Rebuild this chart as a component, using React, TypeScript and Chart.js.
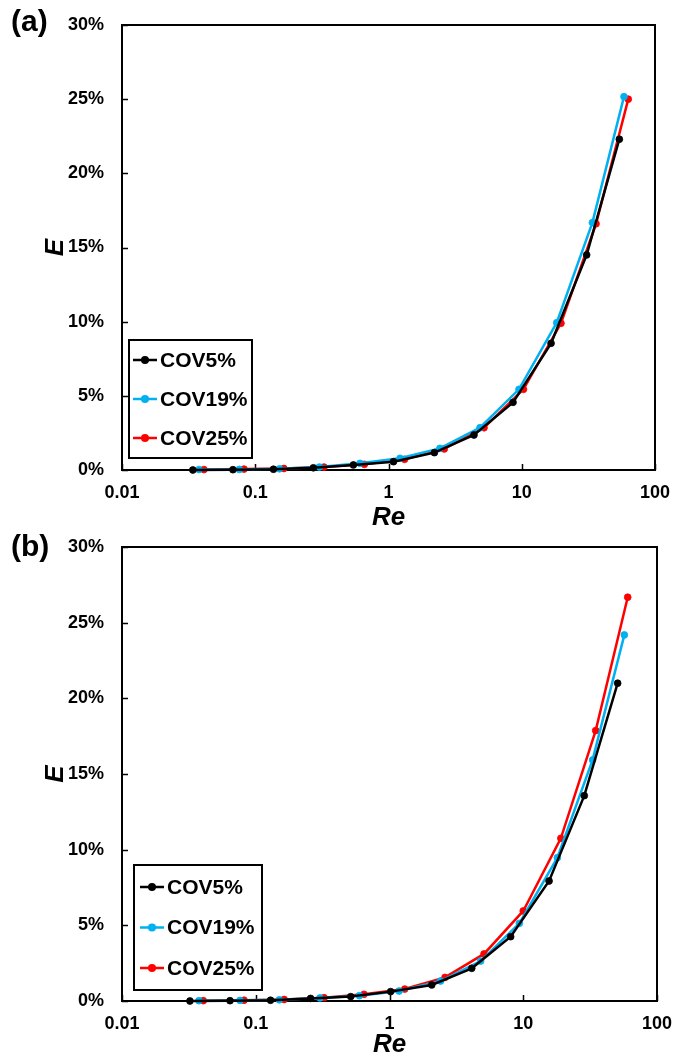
import React, { useEffect, useRef } from 'react';
import { Chart, registerables } from 'chart.js';

Chart.register(...registerables);

// ---- axis ticks ----
const xTickValues = [0.01, 0.1, 1, 10, 100];
const xTickLabels = ['0.01', '0.1', '1', '10', '100'];
const yTickValues = [0, 5, 10, 15, 20, 25, 30];
const yTickLabels = ['0%', '5%', '10%', '15%', '20%', '25%', '30%'];

// ---- series ----
const seriesLabels = ['COV5%', 'COV19%', 'COV25%'];
const seriesColors = ['#000000', '#00B0F0', '#FF0000'];

// Panel (a): Re and E (%)
const reA5 = [0.034, 0.068, 0.137, 0.273, 0.545, 1.09, 2.21, 4.38, 8.6, 16.6, 30.7, 54];
const eA5 = [0.0, 0.02, 0.05, 0.15, 0.34, 0.56, 1.17, 2.36, 4.56, 8.54, 14.5, 22.3];
const reA19 = [0.0378, 0.0759, 0.152, 0.303, 0.611, 1.22, 2.43, 4.86, 9.53, 18.3, 33.9, 58.5];
const eA19 = [0.03, 0.04, 0.08, 0.2, 0.45, 0.79, 1.46, 2.85, 5.44, 9.93, 16.68, 25.17];
const reA25 = [0.0412, 0.0823, 0.164, 0.328, 0.659, 1.32, 2.62, 5.21, 10.3, 19.7, 36.1, 63];
const eA25 = [0.03, 0.06, 0.1, 0.2, 0.38, 0.72, 1.42, 2.85, 5.44, 9.89, 16.6, 25.0];

// Panel (b): Re and E (%)
const reB5 = [0.0322, 0.0642, 0.129, 0.257, 0.513, 1.02, 2.07, 4.12, 8.05, 15.6, 28.6, 50.8];
const eB5 = [0.0, 0.02, 0.05, 0.17, 0.29, 0.62, 1.06, 2.16, 4.25, 7.93, 13.57, 21.0];
const reB19 = [0.0376, 0.0763, 0.15, 0.302, 0.595, 1.18, 2.41, 4.8, 9.35, 18.0, 33.0, 57.0];
const eB19 = [0.02, 0.04, 0.08, 0.2, 0.35, 0.66, 1.32, 2.64, 5.13, 9.47, 15.93, 24.19];
const reB25 = [0.0405, 0.0817, 0.163, 0.324, 0.645, 1.3, 2.6, 5.09, 10.0, 19.1, 34.8, 60.4];
const eB25 = [0.02, 0.05, 0.1, 0.22, 0.44, 0.79, 1.56, 3.11, 5.95, 10.75, 17.87, 26.68];

const FONT = '"Liberation Sans", Arial, Helvetica, sans-serif';

const decorPlugin = {
  id: 'decor',
  beforeDatasetsDraw(chart: any) {
    const { ctx, chartArea: a, scales } = chart;
    ctx.save();
    ctx.strokeStyle = '#000';
    ctx.lineWidth = 2;
    ctx.strokeRect(a.left, a.top, a.right - a.left, a.bottom - a.top);
    ctx.lineWidth = 1.5;
    ctx.beginPath();
    for (const v of xTickValues) {
      const px = Math.round(scales.x.getPixelForValue(v)) + 0.5;
      ctx.moveTo(px, a.bottom);
      ctx.lineTo(px, a.bottom - 6);
    }
    for (const v of yTickValues) {
      const py = Math.round(scales.y.getPixelForValue(v)) + 0.5;
      ctx.moveTo(a.left, py);
      ctx.lineTo(a.left + 6, py);
    }
    ctx.stroke();
    ctx.restore();
  },
  afterDraw(chart: any, _args: any, opts: any) {
    const { ctx, chartArea: a } = chart;
    ctx.save();
    // panel label
    ctx.fillStyle = '#000';
    ctx.font = `bold 30px ${FONT}`;
    ctx.textAlign = 'left';
    ctx.textBaseline = 'middle';
    ctx.fillText(opts.panel, 11, opts.panelY);
    // legend
    const L = opts.legend;
    const bx = a.left + L.dx;
    const by = a.bottom - L.dy - L.h;
    ctx.fillStyle = '#fff';
    ctx.fillRect(bx, by, L.w, L.h);
    ctx.strokeStyle = '#000';
    ctx.lineWidth = 2;
    ctx.strokeRect(bx, by, L.w, L.h);
    chart.data.datasets.forEach((ds: any, i: number) => {
      const y = by + L.first + i * L.row;
      ctx.strokeStyle = ds.borderColor;
      ctx.lineWidth = 2.5;
      ctx.beginPath();
      ctx.moveTo(bx + L.l0, y);
      ctx.lineTo(bx + L.l1, y);
      ctx.stroke();
      ctx.fillStyle = ds.borderColor;
      ctx.beginPath();
      ctx.arc(bx + (L.l0 + L.l1) / 2, y, 4, 0, Math.PI * 2);
      ctx.fill();
      ctx.fillStyle = '#000';
      ctx.font = `bold 21px ${FONT}`;
      ctx.textAlign = 'left';
      ctx.textBaseline = 'middle';
      ctx.fillText(ds.label, bx + L.tx, y + 1);
    });
    ctx.restore();
  },
};

type PanelProps = {
  width: number;
  height: number;
  series: { re: number[]; e: number[] }[];
  area: { left: number; right: number; top: number; bottom: number };
  panel: string;
  panelY: number;
  legend: any;
  xTitlePad: number;
};

function Panel(props: PanelProps) {
  const ref = useRef<HTMLCanvasElement | null>(null);
  useEffect(() => {
    if (!ref.current) return;
    const { width, height, area } = props;
    const chart = new Chart(ref.current, {
      type: 'scatter',
      data: {
        datasets: props.series.map((s, i) => ({
          label: seriesLabels[i],
          data: s.re.map((x, k) => ({ x, y: s.e[k] })),
          showLine: true,
          borderColor: seriesColors[i],
          backgroundColor: seriesColors[i],
          borderWidth: 2.5,
          pointRadius: 3.4,
          pointBorderWidth: 0.8,
          pointHoverRadius: 3.4,
          clip: false,
        })),
      },
      options: {
        animation: false,
        responsive: false,
        devicePixelRatio: 1,
        layout: {
          padding: { left: 0, top: area.top, right: width - area.right, bottom: 0 },
        },
        plugins: {
          legend: { display: false },
          tooltip: { enabled: false },
          decor: { panel: props.panel, panelY: props.panelY, legend: props.legend },
        } as any,
        scales: {
          x: {
            type: 'logarithmic',
            min: 0.01,
            max: 100,
            grid: { display: false, drawTicks: false },
            border: { display: false },
            afterBuildTicks: (scale: any) => {
              scale.ticks = xTickValues.map((v) => ({ value: v }));
            },
            afterFit: (scale: any) => {
              scale.height = height - area.bottom;
              scale.paddingLeft = 0;
              scale.paddingRight = 0;
            },
            ticks: {
              autoSkip: false,
              maxRotation: 0,
              padding: 12,
              color: '#000',
              font: { family: FONT, size: 18, weight: 'bold' },
              callback: (v: any) => xTickLabels[xTickValues.indexOf(Number(v))] ?? '',
            },
            title: {
              display: true,
              text: 'Re',
              color: '#000',
              padding: { top: 0, bottom: props.xTitlePad },
              font: { family: FONT, size: 26, weight: 'bold', style: 'italic', lineHeight: 1 },
            },
          },
          y: {
            type: 'linear',
            min: 0,
            max: 30,
            grid: { display: false, drawTicks: false },
            border: { display: false },
            afterBuildTicks: (scale: any) => {
              scale.ticks = yTickValues.map((v) => ({ value: v }));
            },
            afterFit: (scale: any) => {
              scale.width = area.left;
              scale.paddingTop = 0;
              scale.paddingBottom = 0;
            },
            ticks: {
              padding: 18,
              color: '#000',
              font: { family: FONT, size: 18, weight: 'bold' },
              callback: (v: any) => yTickLabels[yTickValues.indexOf(Number(v))] ?? '',
            },
            title: {
              display: true,
              text: 'E',
              color: '#000',
              padding: { top: 43, bottom: 0 },
              font: { family: FONT, size: 26, weight: 'bold', style: 'italic', lineHeight: 1 },
            },
          },
        },
      } as any,
      plugins: [decorPlugin as any],
    });
    return () => chart.destroy();
  }, []);
  return (
    <canvas
      ref={ref}
      width={props.width}
      height={props.height}
      style={{ display: 'block', width: props.width, height: props.height }}
    />
  );
}

export default function App() {
  return (
    <div style={{ position: 'absolute', left: 0, top: 0, width: 675, height: 1061, background: '#fff' }}>
      <Panel
        width={675}
        height={530}
        series={[
          { re: reA5, e: eA5 },
          { re: reA19, e: eA19 },
          { re: reA25, e: eA25 },
        ]}
        area={{ left: 122, right: 655, top: 25, bottom: 470 }}
        panel="(a)"
        panelY={23}
        legend={{ dx: 7, dy: 12, w: 123, h: 118, first: 20, row: 39, l0: 4, l1: 28, tx: 31 }}
        xTitlePad={-1}
      />
      <Panel
        width={675}
        height={531}
        series={[
          { re: reB5, e: eB5 },
          { re: reB19, e: eB19 },
          { re: reB25, e: eB25 },
        ]}
        area={{ left: 122, right: 657, top: 17, bottom: 471 }}
        panel="(b)"
        panelY={18}
        legend={{ dx: 12, dy: 11, w: 128, h: 125, first: 22, row: 40.5, l0: 6, l1: 30, tx: 33 }}
        xTitlePad={3}
      />
    </div>
  );
}
